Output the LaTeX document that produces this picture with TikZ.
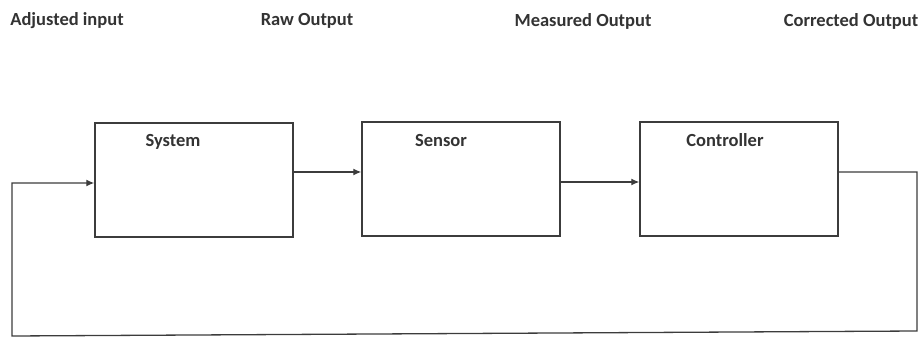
\documentclass[tikz,border=0pt]{standalone}
\usepackage{fontspec}
\setmainfont{Carlito}
\usepackage{tikz}
\usetikzlibrary{positioning, arrows.meta, calc}
\definecolor{lineC}{HTML}{3c3c3c}
\definecolor{txtC}{HTML}{333333}
\begin{document}
\begin{tikzpicture}[x=1pt,y=-1pt,blk/.style={draw=lineC, line width=1.4pt, minimum width=198pt, minimum height=114pt, inner sep=0pt},ttl/.style={font=\bfseries\fontsize{18.5}{21}\selectfont, text=txtC, inner sep=0pt},sig/.style={draw=lineC, line width=1.3pt, -{Latex[length=8pt,width=7pt]}}]
\useasboundingbox (0,0) rectangle (923,339);
\node[blk] (sys) at (194,180) {};
\node[blk] (sen) at (461,179) {};
\node[blk] (ctl) at (739,179) {};
\node[ttl] (sysT) at (173,142) {System};
\node[ttl] (senT) at (441,141) {Sensor};
\node[ttl] (ctlT) at (725,140) {Controller};
\node[ttl] (inL) at (67,21) {Adjusted input};
\node[ttl] (rawL) at (307,21) {Raw Output};
\node[ttl] (measL) at (583,21) {Measured Output};
\node[ttl] (corrL) at (851,21) {Corrected Output};
\coordinate (fbR) at (917,331); \coordinate (fbL) at (12,336);
\draw[sig] ([yshift=8pt]sys.east) -- ([yshift=8pt]sys.east -| sen.west);
\draw[sig] ([yshift=-3pt]sen.east) -- ([yshift=-3pt]sen.east -| ctl.west);
\draw[sig] ([yshift=7pt]ctl.east) -| (fbR) -- (fbL) |- ([yshift=-3pt]sys.west);
\end{tikzpicture}
\end{document}
